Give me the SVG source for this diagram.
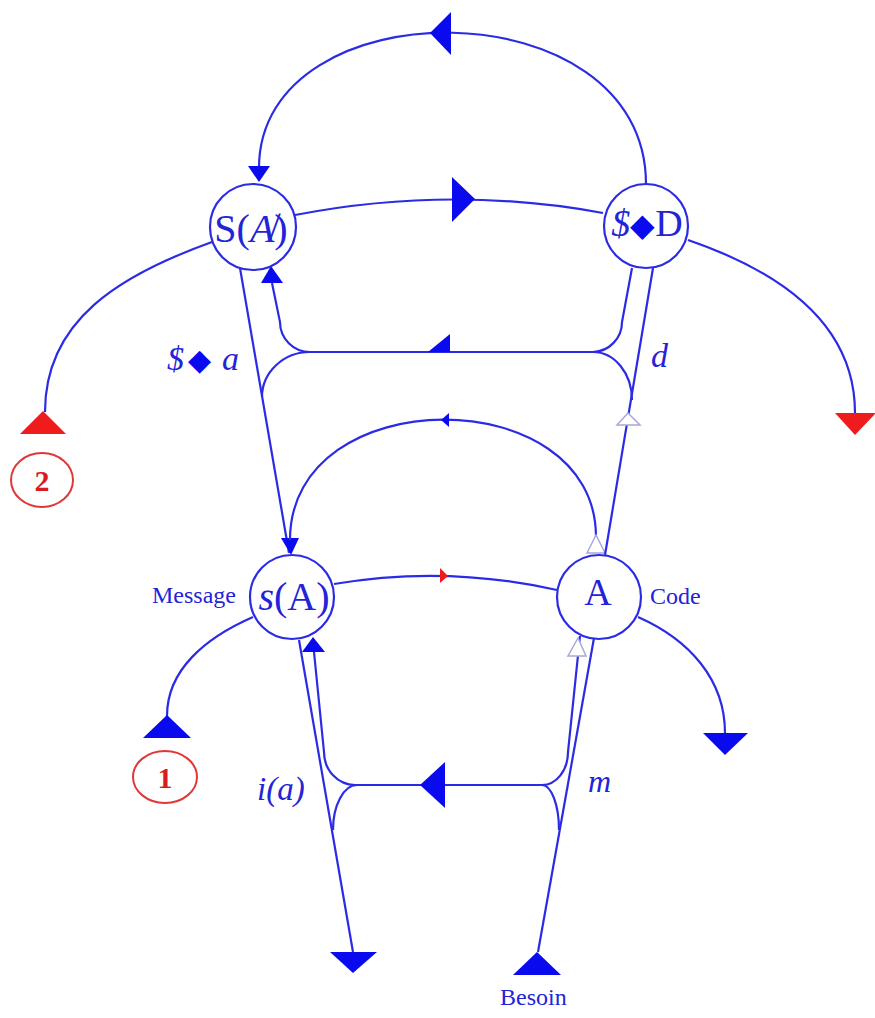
<svg xmlns="http://www.w3.org/2000/svg" width="875" height="1018" viewBox="0 0 875 1018">
<style>
.ln{fill:none;stroke:#2b2be6;stroke-width:2.2}
.ar{fill:#0a0aee;stroke:none}
.rar{fill:#ee1c1c;stroke:none}
.hol{fill:#ffffff;stroke:#a8a8dc;stroke-width:1.5}
.nd{fill:#ffffff;stroke:#2b2be6;stroke-width:2.2}
.rc{fill:#ffffff;stroke:#e03838;stroke-width:2}
.t{font-family:"Liberation Serif","Times New Roman",serif;fill:#2323d8}
.it{font-style:italic}
.dm{fill:#0a0aee}
.rt{font-family:"Liberation Serif","Times New Roman",serif;fill:#d81c1c;font-weight:bold}
</style>
<g id="connectors">
<path class="ln" d="M646 184 C646 -15 259 -15 259 168"/>
<polygon class="ar" points="430,33 451,12 451,55"/>
<polygon class="ar" points="248,166 270,166 259,182"/>
<path class="ln" d="M295 215 Q450 185 603 213"/>
<polygon class="ar" points="452,177 452,222 475,199"/>
<path class="ln" d="M212 242 C120 275 45 320 45 412"/>
<polygon class="rar" points="20,434 66,434 43,411"/>
<path class="ln" d="M688 240 C790 275 855 330 855 413"/>
<polygon class="rar" points="835,413 876,413 855,435"/>
<path class="ln" d="M272 283 L280 322 A30 30 0 0 0 310 352 L593 352 A30 30 0 0 0 622 322 L632 268"/>
<polygon class="ar" points="261,283 283,283 271,266"/>
<polygon class="ar" points="428,352 450,352 450,334"/>
<path class="ln" d="M310 352 A48 45 0 0 0 262 397"/>
<path class="ln" d="M593 352 A39 48 0 0 1 632 400"/>
<path class="ln" d="M240 268 L289 553"/>
<polygon class="ar" points="281,538 299,538 291,555"/>
<path class="ln" d="M596 537 C596 380 290 380 290 540"/>
<polygon class="ar" points="441,420 449,413 449,427"/>
<polygon class="hol" points="596,535 587,553 605,553"/>
<path class="ln" d="M653 268 L605 555"/>
<polygon class="hol" points="628,413 617,425 640,425"/>
<path class="ln" d="M334 584 Q445 565 557 590"/>
<polygon class="rar" points="440,568 440,583 448,576"/>
<path class="ln" d="M253 617 C205 638 167 670 167 716"/>
<polygon class="ar" points="143,738 191,738 167,715"/>
<path class="ln" d="M638 617 C690 640 725 680 725 733"/>
<polygon class="ar" points="703,733 748,733 725,755"/>
<path class="ln" d="M299 640 L353 952"/>
<polygon class="ar" points="330,952 377,952 353,973"/>
<path class="ln" d="M314 652 L324 752 A31 33 0 0 0 355 785 L542 785 A26 33 0 0 0 568 752 L580 636"/>
<polygon class="ar" points="302,652 325,652 313,637"/>
<polygon class="ar" points="420,785 445,762 445,808"/>
<path class="ln" d="M357 785 A24 45 0 0 0 333 830"/>
<path class="ln" d="M542 785 A17 45 0 0 1 559 830"/>
<path class="ln" d="M594 638 L538 952"/>
<polygon class="hol" points="578,638 568,656 586,656"/>
<polygon class="ar" points="513,975 561,975 537,952"/>
</g>
<g id="node-SA">
<circle class="nd" cx="253" cy="227" r="43"/>
<text class="t" x="251" y="242" font-size="40" text-anchor="middle">S(<tspan class="it">A̸</tspan>)</text>
</g>
<g id="node-SD">
<circle class="nd" cx="646" cy="226" r="42"/>
<text class="t" x="647" y="236" font-size="38" text-anchor="middle"><tspan class="it">$</tspan><tspan class="dm" font-size="32">◆</tspan>D</text>
</g>
<g id="node-sA">
<circle class="nd" cx="292" cy="597" r="42"/>
<text class="t" x="294" y="610" font-size="40" text-anchor="middle"><tspan class="it">s</tspan>(A)</text>
</g>
<g id="node-A">
<circle class="nd" cx="599" cy="597" r="42"/>
<text class="t" x="598" y="605" font-size="38" text-anchor="middle">A</text>
</g>
<g id="node-1">
<ellipse class="rc" cx="165" cy="777" rx="32" ry="26"/>
<text class="rt" x="165" y="788" font-size="30" text-anchor="middle">1</text>
</g>
<g id="node-2">
<ellipse class="rc" cx="42" cy="480" rx="31" ry="27"/>
<text class="rt" x="42" y="491" font-size="30" text-anchor="middle">2</text>
</g>
<g id="labels">
<text class="t it" x="167" y="370" font-size="34">$<tspan class="dm" x="188" font-size="30" font-style="normal">◆</tspan><tspan x="222">a</tspan></text>
<text class="t it" x="651" y="367" font-size="34">d</text>
<text class="t" x="152" y="603" font-size="24">Message</text>
<text class="t" x="650" y="604" font-size="24">Code</text>
<text class="t it" x="257" y="800" font-size="33">i(a)</text>
<text class="t it" x="588" y="792" font-size="32">m</text>
<text class="t" x="500" y="1005" font-size="24">Besoin</text>
</g>
</svg>
